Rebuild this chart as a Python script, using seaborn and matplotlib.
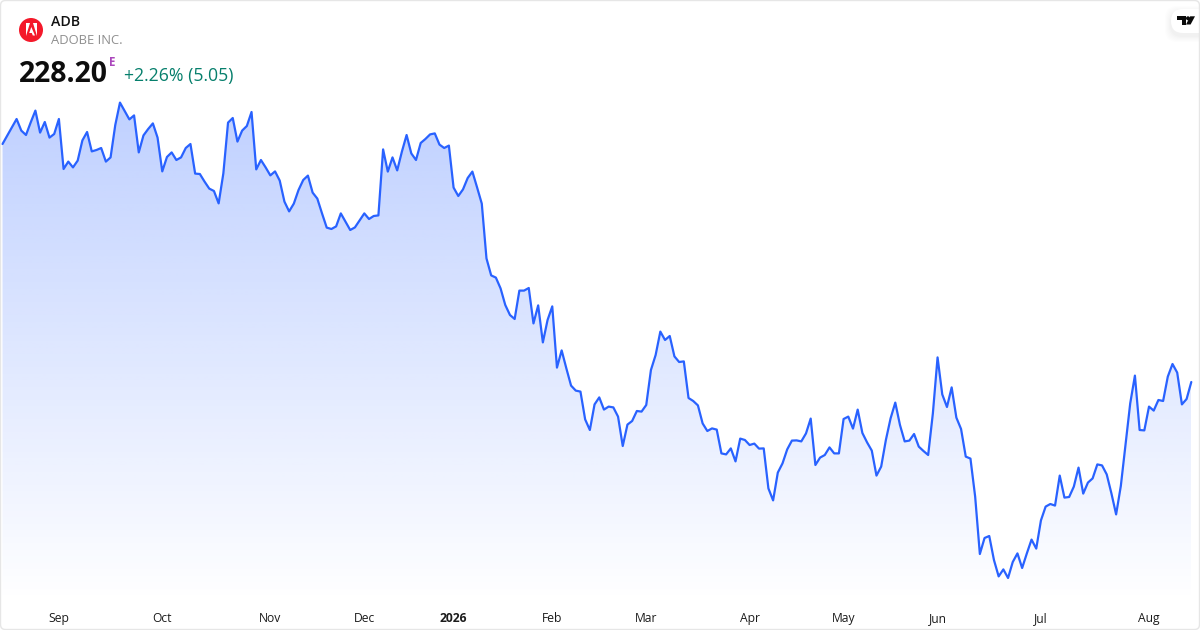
import numpy as np
import matplotlib
matplotlib.use("Agg")
import matplotlib.pyplot as plt
from matplotlib.patches import Circle, Polygon, FancyBboxPatch
import seaborn as sns

SYMBOL = "ADB"
COMPANY = "ADOBE INC."
LAST_PRICE = "228.20"
CHANGE = "+2.26% (5.05)"
TICK_LABELS = ["Sep", "Oct", "Nov", "Dec", "2026", "Feb", "Mar", "Apr", "May", "Jun", "Jul", "Aug"]
TICK_SESSIONS = [12, 34, 57, 77, 96, 117, 137, 159, 179, 199, 221, 244]

prices_sep_nov = [
    347.2, 351.4, 355.5, 359.7, 353.9, 351.7, 358.0, 363.9, 352.9, 358.2, 350.4, 352.2, 359.7, 334.7, 338.4, 335.5,
    338.9, 349.0, 353.2, 343.5, 344.2, 345.2, 338.4, 340.5, 356.7, 367.9, 363.7, 359.5, 361.5, 343.0, 351.5, 354.7,
    357.5, 350.4, 333.5, 340.7, 343.0, 339.2, 340.5, 345.2, 347.2, 332.4, 332.2, 328.4, 324.9, 323.7, 317.5, 332.5,
    357.9, 360.2, 348.4, 353.9, 356.2, 363.2, 334.5, 339.2, 335.5, 331.5, 333.5, 328.9, 318.4, 313.5, 317.4, 324.2,
]
prices_nov_feb = [
    329.2, 331.4, 322.9, 319.9, 312.5, 305.4, 304.7, 306.0, 312.5, 308.4, 304.2, 305.5, 309.0, 312.5, 309.7, 311.2,
    311.5, 344.5, 333.4, 340.5, 334.0, 343.4, 351.7, 342.5, 339.2, 347.7, 349.7, 352.0, 352.5, 346.9, 345.2, 346.4,
    325.4, 321.2, 324.5, 330.2, 333.4, 325.5, 317.4, 290.0, 281.5, 280.4, 275.0, 266.7, 261.7, 259.7, 273.9, 273.9,
    275.2, 257.5, 266.5, 248.0, 259.2, 266.0, 235.4,
]
prices_feb_may = [
    244.0, 235.0, 226.4, 223.9, 223.4, 209.5, 204.2, 217.0, 220.5, 214.4, 215.9, 215.5, 210.9, 196.2, 206.9, 208.7,
    213.7, 213.4, 216.7, 234.2, 241.7, 253.4, 249.2, 251.2, 241.0, 238.2, 238.5, 220.2, 218.7, 216.5, 207.5, 203.7,
    205.0, 204.4, 192.5, 192.0, 195.0, 188.5, 199.9, 199.2, 196.7, 197.4, 194.9, 195.0, 175.0, 169.0, 182.9, 187.5,
    194.5, 198.9, 199.0, 198.5, 202.5, 209.9, 186.7, 190.4, 191.7, 195.5, 192.5, 192.5, 209.7, 210.9, 204.9, 214.4,
    202.7, 198.0, 193.9, 181.4, 185.9,
]
prices_may_aug = [
    199.2, 210.0, 217.9, 206.7, 198.5, 198.9, 202.2, 195.9, 193.7, 191.7, 212.5, 240.5, 222.0, 215.7, 225.5, 210.4,
    204.7, 190.9, 189.9, 170.9, 142.2, 150.2, 151.2, 139.2, 131.0, 134.5, 130.2, 138.2, 142.5, 135.2, 142.5, 149.4,
    144.9, 159.0, 165.9, 167.2, 166.4, 181.4, 170.4, 170.7, 175.9, 185.4, 172.4, 177.9, 180.0, 187.0, 186.5, 182.0,
    172.5, 162.0, 176.2, 196.7, 217.5, 231.4, 204.2, 204.0, 215.9, 213.9, 219.2, 218.7, 230.9, 237.2, 232.9, 217.0,
    219.7, 228.2,
]
prices = np.array(prices_sep_nov + prices_nov_feb + prices_feb_may + prices_may_aug)
sessions = np.arange(len(prices))

LINE = "#2962ff"
sns.set_theme(style="white")
plt.rcParams["font.family"] = ["Open Sans", "DejaVu Sans"]

W, H = 1200, 630
fig = plt.figure(figsize=(W / 100, H / 100), dpi=100, facecolor="white")
PLOT_BOTTOM = 603
ax = fig.add_axes([0, (H - PLOT_BOTTOM) / H, 1, PLOT_BOTTOM / H])
ax.patch.set_alpha(0)

step = (1191.3 - 2.5) / (len(prices) - 1)
XLIM = (-2.5 / step, (W - 2.5) / step)
YLIM = (419.2 - PLOT_BOTTOM / 2, 419.2)
ax.set_xlim(*XLIM)
ax.set_ylim(*YLIM)

# gradient area under the line
base = YLIM[0]
poly = ax.fill_between(sessions, prices, base, color="none", lw=0)
grad = np.zeros((256, 2, 4))
grad[..., 0], grad[..., 1], grad[..., 2] = 41 / 255, 98 / 255, 1.0
grad[..., 3] = np.linspace(0.30, 0.0, 256)[:, None]
top = prices.max()
im = ax.imshow(grad, extent=[sessions[0], sessions[-1], base, top], origin="upper", aspect="auto", zorder=1,
               interpolation="bilinear")
im.set_clip_path(poly.get_paths()[0], transform=ax.transData)
ax.set_xlim(*XLIM)
ax.set_ylim(*YLIM)

sns.lineplot(x=sessions, y=prices, ax=ax, color=LINE, linewidth=1.6, zorder=3, solid_joinstyle="round")
sns.despine(ax=ax, left=True, bottom=True, top=True, right=True)
ax.set_xlabel("")
ax.set_ylabel("")
ax.set_yticks([])
ax.set_xticks(TICK_SESSIONS, TICK_LABELS)
ax.tick_params(axis="x", length=0, pad=6.2, labelsize=8.7, colors="#1c1c1c")
for lab in ax.get_xticklabels():
    if lab.get_text() == "2026":
        lab.set_fontweight("bold")

# pixel overlay for the header, logos and the card border
ov = fig.add_axes([0, 0, 1, 1], zorder=5)
ov.set_xlim(0, W)
ov.set_ylim(H, 0)
ov.axis("off")
ov.patch.set_alpha(0)

ov.add_patch(Circle((31, 30), 12, fc="#f4192a", ec="none"))
ov.add_patch(Polygon([(29.7, 22.8), (26.2, 22.8), (26.2, 35.5)], fc="white", ec="none"))
ov.add_patch(Polygon([(32.8, 22.8), (36.6, 22.8), (36.6, 35.5)], fc="white", ec="none"))
ov.add_patch(Polygon([(31.3, 27), (35, 35.5), (32.8, 35.5), (31.8, 33), (29.2, 33)], fc="white", ec="none"))

ov.text(51, 21.5, SYMBOL, fontsize=10.2, fontweight="semibold", color="#111111", va="center", ha="left")
ov.text(51, 41, COMPANY, fontsize=9.4, color="#8f8f8f", va="center", ha="left")
ov.text(19, 74.5, LAST_PRICE, fontsize=20.4, fontweight="bold", color="#0d0d0d", va="center", ha="left")
ov.text(109, 62.5, "E", fontsize=8.4, fontweight="bold", color="#ab47bc", va="center", ha="left")
ov.text(124, 75.5, CHANGE, fontsize=12.7, color="#067f6c", va="center", ha="left")

# TradingView badge
for off, a in ((6.0, 0.006), (5.0, 0.007), (4.0, 0.008), (3.0, 0.009), (2.0, 0.01), (1.0, 0.012)):
    ov.add_patch(FancyBboxPatch((1171 - off, 9 - off + 3), 40 + off, 24 + off * 2,
                                boxstyle="round,pad=0,rounding_size=12", fc="black", ec="none", alpha=a, zorder=6))
ov.add_patch(FancyBboxPatch((1171, 9), 40, 24, boxstyle="round,pad=0,rounding_size=12",
                            fc="white", ec="none", zorder=7))
ov.add_patch(Polygon([(1177.3, 16.3), (1185.7, 16.3), (1185.7, 24.5), (1181.7, 24.5), (1181.7, 20.3), (1177.3, 20.3)],
                     fc="#0a0a0a", ec="none", zorder=8))
ov.add_patch(Circle((1188, 18.3), 2.0, fc="#0a0a0a", ec="none", zorder=8))
ov.add_patch(Polygon([(1190.2, 16.3), (1195, 16.3), (1190.6, 24.5), (1186, 24.5)], fc="#0a0a0a", ec="none", zorder=8))

ov.add_patch(FancyBboxPatch((0.5, 0.5), W - 1, H - 1, boxstyle="round,pad=0,rounding_size=5",
                            fc="none", ec="#e6e6e6", lw=1, zorder=9))

fig.savefig("out.png", dpi=100, facecolor="white")
